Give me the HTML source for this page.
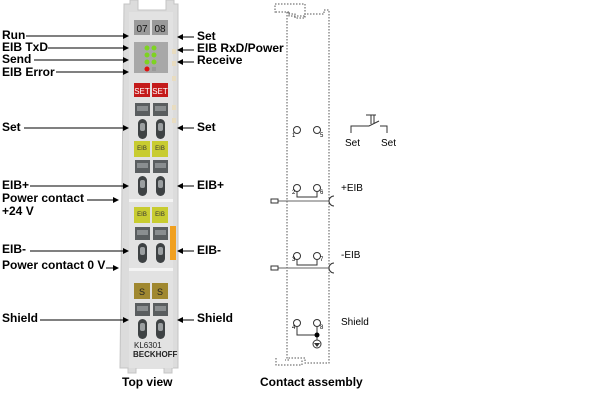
<!DOCTYPE html>
<html><head><meta charset="utf-8"><style>
html,body{margin:0;padding:0;background:#fff;}
svg{display:block;}
.l{font-family:"Liberation Sans",Arial,sans-serif;font-weight:bold;font-size:12px;fill:#000;}
.c{font-family:"Liberation Sans",Arial,sans-serif;font-size:10px;fill:#000;}
.n{font-family:"Liberation Sans",Arial,sans-serif;font-size:6px;fill:#000;}
</style></head><body>
<svg width="610" height="415" viewBox="0 0 610 415" xmlns="http://www.w3.org/2000/svg">
<defs>
<marker id="ar" markerWidth="6" markerHeight="6" refX="5" refY="3" orient="auto" markerUnits="userSpaceOnUse"><path d="M0,0 L6,3 L0,6 z" fill="#000"/></marker>
<g id="spr"><rect x="0" y="0" width="15" height="13" fill="#5a5e60"/><rect x="2" y="3" width="11" height="5" fill="#8a8e90"/><rect x="3" y="16" width="9" height="20" rx="4.5" fill="#3e4244"/><rect x="5" y="20" width="5" height="8" rx="2" fill="#9a9ea0"/></g>
</defs>
<path d="M124,4 h6 v-4 h8 v10 h28 v-10 h8 v4 h4 v364 h-6 v5 h-8 v-5 h-28 v5 h-8 v-5 h-8 z" fill="#dcdcdc" stroke="#c4c4c4"/>
<rect x="129" y="12" width="44" height="356" fill="#e2e2e2"/>
<rect x="129" y="199" width="44" height="3" fill="#f4f4f4"/>
<rect x="129" y="268" width="44" height="3" fill="#f4f4f4"/>
<rect x="172" y="49" width="4" height="5" fill="#e8dcc0"/><rect x="172" y="61" width="4" height="5" fill="#e8dcc0"/><rect x="172" y="76" width="4" height="5" fill="#e8dcc0"/><rect x="172" y="105" width="4" height="5" fill="#e8dcc0"/><rect x="172" y="118" width="4" height="5" fill="#e8dcc0"/>
<rect x="134" y="20" width="16" height="15" fill="#9a9a9a"/><rect x="152" y="20" width="16" height="15" fill="#9a9a9a"/>
<text x="142" y="32" text-anchor="middle" font-family="Liberation Sans" font-size="10" fill="#111">07</text>
<text x="160" y="32" text-anchor="middle" font-family="Liberation Sans" font-size="10" fill="#111">08</text>
<rect x="134" y="42" width="34" height="31" fill="#a8a8a8"/>
<g fill="#7ed321"><circle cx="147" cy="48" r="2.5"/><circle cx="154" cy="48" r="2.5"/><circle cx="147" cy="55" r="2.5"/><circle cx="154" cy="55" r="2.5"/><circle cx="147" cy="62" r="2.5"/><circle cx="154" cy="62" r="2.5"/></g>
<circle cx="147" cy="69" r="2.5" fill="#e01010"/><rect x="152" y="67" width="4" height="4" fill="#999"/>
<rect x="134" y="83" width="16" height="14" fill="#c41a1a"/><rect x="152" y="83" width="16" height="14" fill="#c41a1a"/>
<text x="142" y="94" text-anchor="middle" font-family="Liberation Sans" font-size="8" fill="#fff">SET</text>
<text x="160" y="94" text-anchor="middle" font-family="Liberation Sans" font-size="8" fill="#fff">SET</text>
<use href="#spr" x="135" y="103"/><use href="#spr" x="153" y="103"/>
<rect x="134" y="141" width="16" height="16" fill="#c8cc30"/><rect x="152" y="141" width="16" height="16" fill="#c8cc30"/>
<text x="142" y="150" text-anchor="middle" font-family="Liberation Sans" font-size="6" fill="#333">EIB</text><text x="160" y="150" text-anchor="middle" font-family="Liberation Sans" font-size="6" fill="#333">EIB</text>
<use href="#spr" x="135" y="160"/><use href="#spr" x="153" y="160"/>
<rect x="134" y="207" width="16" height="16" fill="#c8cc30"/><rect x="152" y="207" width="16" height="16" fill="#c8cc30"/>
<text x="142" y="216" text-anchor="middle" font-family="Liberation Sans" font-size="6" fill="#333">EIB</text><text x="160" y="216" text-anchor="middle" font-family="Liberation Sans" font-size="6" fill="#333">EIB</text>
<use href="#spr" x="135" y="227"/><use href="#spr" x="153" y="227"/>
<rect x="170" y="226" width="6" height="34" fill="#f0a020"/>
<rect x="134" y="283" width="16" height="16" fill="#a08830"/><rect x="152" y="283" width="16" height="16" fill="#a08830"/>
<text x="142" y="295" text-anchor="middle" font-family="Liberation Sans" font-size="9" fill="#222">S</text><text x="160" y="295" text-anchor="middle" font-family="Liberation Sans" font-size="9" fill="#222">S</text>
<use href="#spr" x="135" y="303"/><use href="#spr" x="153" y="303"/>
<text x="134" y="348" font-family="Liberation Sans" font-size="8" fill="#222">KL6301</text>
<text x="133" y="357" font-family="Liberation Sans" font-weight="bold" font-size="8" fill="#222">BECKHOFF</text>
<g class="l">
<text x="2" y="39">Run</text><text x="2" y="51">EIB TxD</text><text x="2" y="63">Send</text><text x="2" y="76">EIB Error</text>
<text x="2" y="131">Set</text><text x="2" y="189">EIB+</text><text x="2" y="202">Power contact</text><text x="2" y="215">+24 V</text>
<text x="2" y="253">EIB-</text><text x="2" y="269">Power contact 0 V</text><text x="2" y="322">Shield</text>
<text x="197" y="40">Set</text><text x="197" y="52">EIB RxD/Power</text><text x="197" y="64">Receive</text>
<text x="197" y="131">Set</text><text x="197" y="189">EIB+</text><text x="197" y="254">EIB-</text><text x="197" y="322">Shield</text>
<text x="122" y="386">Top view</text><text x="260" y="386">Contact assembly</text>
</g>
<g stroke="#000" stroke-width="1" marker-end="url(#ar)">
<line x1="26" y1="36" x2="128" y2="36"/><line x1="48" y1="48" x2="128" y2="48"/><line x1="34" y1="60" x2="128" y2="60"/><line x1="56" y1="72" x2="128" y2="72"/>
<line x1="24" y1="128" x2="128" y2="128"/><line x1="30" y1="186" x2="128" y2="186"/><line x1="87" y1="200" x2="118" y2="200"/>
<line x1="30" y1="251" x2="128" y2="251"/><line x1="106" y1="268" x2="118" y2="268"/><line x1="40" y1="320" x2="128" y2="320"/>
<line x1="194" y1="37" x2="178" y2="37"/><line x1="194" y1="50" x2="178" y2="50"/><line x1="194" y1="62" x2="178" y2="62"/>
<line x1="194" y1="128" x2="178" y2="128"/><line x1="194" y1="186" x2="178" y2="186"/><line x1="194" y1="251" x2="178" y2="251"/><line x1="194" y1="320" x2="178" y2="320"/>
</g>
<g fill="none" stroke="#555" stroke-width="1" stroke-dasharray="1.5,1.5">
<path d="M276,12 h-1 v-8 h30 v14 h-10 v-4 h-6 v-2 h-13"/>
<path d="M289,12 v4 h16 v-2 h19 v-4 h5 v353 h-24 v-5 h-16 v2 h-4"/>
<line x1="287" y1="12" x2="287" y2="360"/>
<path d="M276,358 v7 h26 v-5"/>
</g>
<g fill="#fff" stroke="#333" stroke-width="1">
<circle cx="297" cy="130" r="3.5"/><circle cx="317" cy="130" r="3.5"/>
<circle cx="297" cy="188" r="3.5"/><circle cx="317" cy="188" r="3.5"/>
<circle cx="297" cy="256" r="3.5"/><circle cx="317" cy="256" r="3.5"/>
<circle cx="297" cy="323" r="3.5"/><circle cx="317" cy="323" r="3.5"/>
</g>
<g fill="none" stroke="#333" stroke-width="1">
<path d="M297,192 v5 h20 v-5"/><path d="M297,260 v5 h20 v-5"/><path d="M297,327 v8 h20 v-8 M317,335 v5"/>
<line x1="278" y1="201" x2="329" y2="201" stroke="#666"/><line x1="278" y1="268" x2="329" y2="268" stroke="#666"/>
<path d="M334,196 a5,5 0 0 0 0,10"/><path d="M334,263 a5,5 0 0 0 0,10"/>
<path d="M351,133 v-7 h18 l10,-5 M380,126 h7 v7 M366,115 h10 M371,115 v9 M374,115 v9"/>
</g>
<rect x="271" y="199" width="7" height="4" fill="#fff" stroke="#333"/><rect x="271" y="266" width="7" height="4" fill="#fff" stroke="#333"/>
<circle cx="317" cy="335" r="2.5" fill="#000"/>
<circle cx="317" cy="344" r="4" fill="#fff" stroke="#333"/><path d="M314,343 h6 l-3,4 z" fill="#333"/>
<g class="n"><text x="292" y="137">1</text><text x="320" y="137">5</text><text x="292" y="194">2</text><text x="320" y="194">6</text><text x="292" y="261">3</text><text x="320" y="261">7</text><text x="292" y="329">4</text><text x="320" y="329">8</text></g>
<g class="c"><text x="345" y="146">Set</text><text x="381" y="146">Set</text><text x="341" y="191">+EIB</text><text x="341" y="258">-EIB</text><text x="341" y="325">Shield</text></g>
</svg>
</body></html>
